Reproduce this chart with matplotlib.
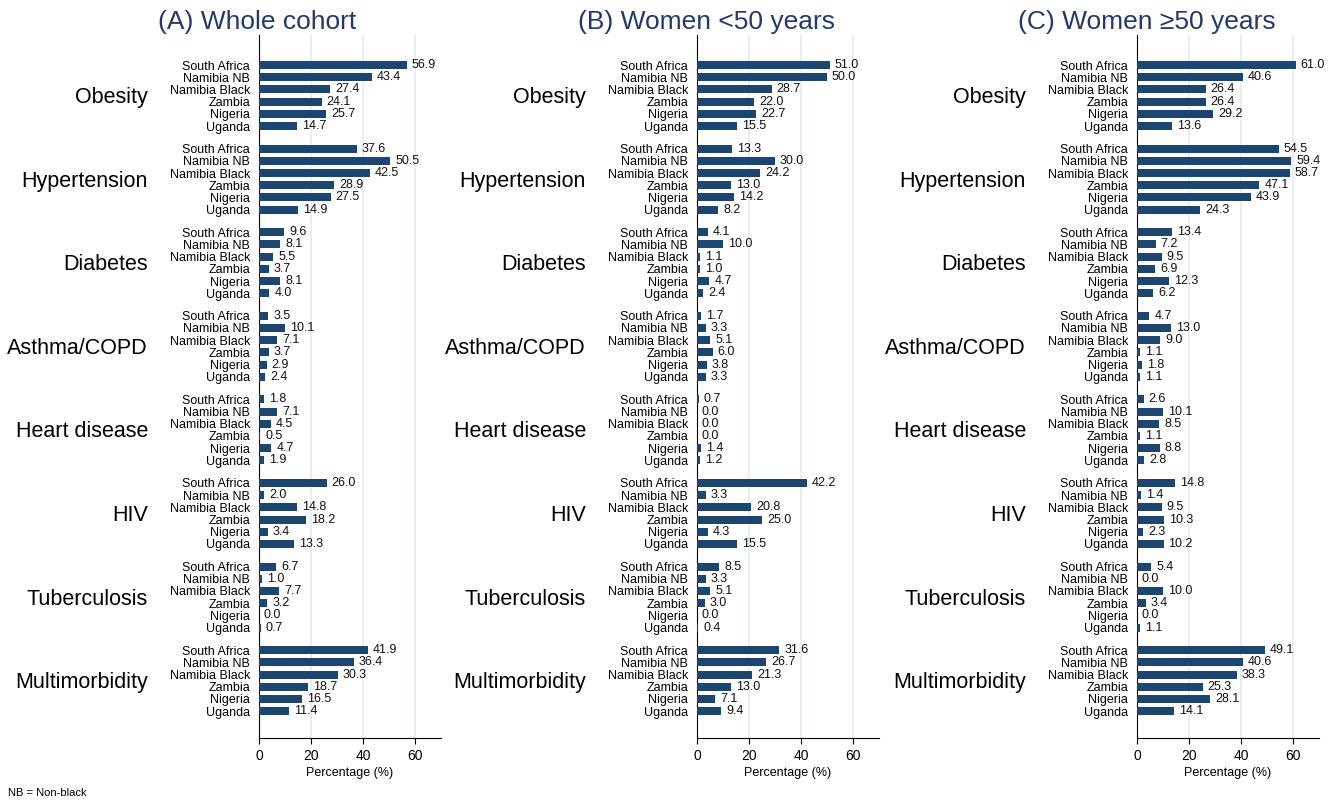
#! /usr/bin/env python
"""Prevalence of chronic conditions by country, three cohorts."""
import matplotlib
matplotlib.use('Agg')
import matplotlib.pyplot as plt
import numpy as np

plt.rcParams['font.family'] = ['Liberation Sans', 'DejaVu Sans']

countries = ['South Africa', 'Namibia NB', 'Namibia Black', 'Zambia', 'Nigeria', 'Uganda']
conditions = ['Obesity', 'Hypertension', 'Diabetes', 'Asthma/COPD',
              'Heart disease', 'HIV', 'Tuberculosis', 'Multimorbidity']
titles = ['(A) Whole cohort', '(B) Women <50 years', '(C) Women \u226550 years']

# one row per condition, columns follow the countries list
whole = [
    [56.9, 43.4, 27.4, 24.1, 25.7, 14.7],
    [37.6, 50.5, 42.5, 28.9, 27.5, 14.9],
    [9.6, 8.1, 5.5, 3.7, 8.1, 4.0],
    [3.5, 10.1, 7.1, 3.7, 2.9, 2.4],
    [1.8, 7.1, 4.5, 0.5, 4.7, 1.9],
    [26.0, 2.0, 14.8, 18.2, 3.4, 13.3],
    [6.7, 1.0, 7.7, 3.2, 0.0, 0.7],
    [41.9, 36.4, 30.3, 18.7, 16.5, 11.4],
]
women_lt50 = [
    [51.0, 50.0, 28.7, 22.0, 22.7, 15.5],
    [13.3, 30.0, 24.2, 13.0, 14.2, 8.2],
    [4.1, 10.0, 1.1, 1.0, 4.7, 2.4],
    [1.7, 3.3, 5.1, 6.0, 3.8, 3.3],
    [0.7, 0.0, 0.0, 0.0, 1.4, 1.2],
    [42.2, 3.3, 20.8, 25.0, 4.3, 15.5],
    [8.5, 3.3, 5.1, 3.0, 0.0, 0.4],
    [31.6, 26.7, 21.3, 13.0, 7.1, 9.4],
]
women_ge50 = [
    [61.0, 40.6, 26.4, 26.4, 29.2, 13.6],
    [54.5, 59.4, 58.7, 47.1, 43.9, 24.3],
    [13.4, 7.2, 9.5, 6.9, 12.3, 6.2],
    [4.7, 13.0, 9.0, 1.1, 1.8, 1.1],
    [2.6, 10.1, 8.5, 1.1, 8.8, 2.8],
    [14.8, 1.4, 9.5, 10.3, 2.3, 10.2],
    [5.4, 0.0, 10.0, 3.4, 0.0, 1.1],
    [49.1, 40.6, 38.3, 25.3, 28.1, 14.1],
]
panels = [whole, women_lt50, women_ge50]

bar_color = '#1c4670'
title_color = '#25386a'
stride = 6.85

fig = plt.figure(figsize=(13.43, 8), dpi=100)
W, H = 1343, 800
lefts = [259, 697, 1137]
title_x = [257, 706, 1147]

for k, data in enumerate(panels):
    ax = fig.add_axes([lefts[k] / W, 1 - 738 / H, 182 / W, 703 / H])
    vals = np.array(data)
    ypos = []
    labels = []
    for g in range(len(conditions)):
        y = g * stride + np.arange(len(countries))
        ax.barh(y, vals[g], height=0.65, color=bar_color, zorder=3)
        for yy, v in zip(y, vals[g]):
            ax.annotate('%.1f' % v, xy=(v, yy), xytext=(5, 0),
                        textcoords='offset pixels', va='center', ha='left',
                        fontsize=9, color='#111111')
        ax.annotate(conditions[g], xy=(0, y.mean()),
                    xycoords=('axes fraction', 'data'),
                    xytext=(-111, -2), textcoords='offset pixels',
                    ha='right', va='center', fontsize=15.5)
        ypos.extend(y)
        labels.extend(countries)

    ax.set_yticks(ypos)
    ax.set_yticklabels(labels, fontsize=9)
    ax.tick_params(axis='y', length=0, pad=6.5)
    ax.set_ylim(55.15, -2.46)
    ax.set_xlim(0, 70)
    ax.set_xticks([0, 20, 40, 60])
    ax.tick_params(axis='x', labelsize=10, length=4, pad=4)
    ax.set_xlabel('Percentage (%)', fontsize=9, labelpad=3)
    ax.grid(axis='x', color='#e4ecf2', linewidth=1.2, zorder=0)
    ax.spines['top'].set_visible(False)
    ax.spines['right'].set_visible(False)
    fig.text(title_x[k] / W, 1 - 22 / H, titles[k], ha='center', va='center',
             fontsize=19, color=title_color)

fig.text(8 / W, 1 - 793 / H, 'NB = Non-black', fontsize=8, va='center')

plt.savefig('out.png', dpi=100)
